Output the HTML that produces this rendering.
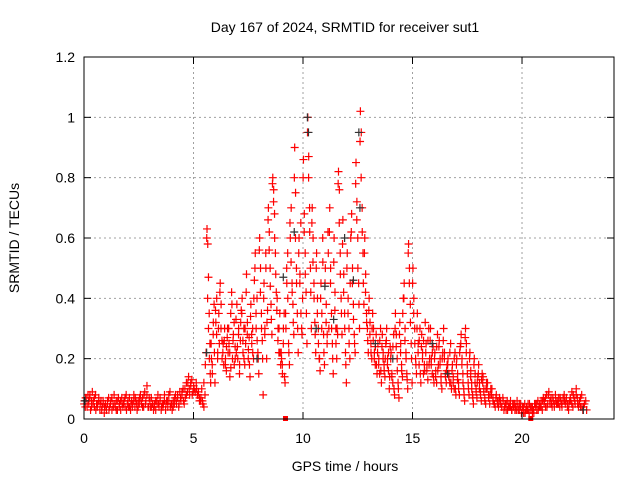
<!DOCTYPE html>
<html><head><meta charset="utf-8"><style>
body{margin:0;background:#fff}
svg text{font-family:"Liberation Sans",sans-serif;font-size:14px;fill:#000}
</style></head><body>
<svg id="chart" width="640" height="480" xmlns="http://www.w3.org/2000/svg">
<rect width="640" height="480" fill="#fff"/>
<text x="345" y="32" text-anchor="middle">Day 167 of 2024, SRMTID for receiver sut1</text>
<text transform="translate(19,238) rotate(-90)" text-anchor="middle">SRMTID / TECUs</text>
<text x="345" y="471" text-anchor="middle">GPS time / hours</text>
<g id="grid"></g><g id="points"></g><g id="axes"></g>
</svg>
<script>
const xTicks=[0,5,10,15,20];
const yTicks=[0,0.2,0.4,0.6,0.8,1,1.2];
const yTickLabels=["0","0.2","0.4","0.6","0.8","1","1.2"];
const binWidth=0.2;
const redBins=[
[.06,.04,.07,.05,.08],[.05,.07,.03,.06,.09],[.06,.04,.08,.05],[.05,.07,.03,.06],[.04,.06,.02,.05],
[.03,.05,.07,.04],[.06,.03,.05,.08],[.04,.06,.03,.07],[.05,.03,.07,.04],[.06,.04,.08,.05],
[.04,.07,.03,.06],[.05,.08,.04,.06],[.03,.06,.05,.08],[.05,.07,.04,.09],[.06,.11,.04,.07],
[.04,.07,.05,.03],[.05,.03,.06,.08],[.04,.06,.03,.05],[.05,.08,.03,.06],[.04,.06,.09,.05],
[.03,.06,.05,.08],[.05,.07,.04,.09],[.06,.08,.10,.05],[.07,.12,.09,.14],[.08,.11,.13,.09],
[.10,.09,.12,.08],[.09,.07,.06,.10],[.05,.04,.08,.22],[.63,.58,.47,.35,.25,.12],[.2,.15,.28,.38,.12],
[.32,.4,.2,.3,.25],[.45,.38,.26,.22,.18],[.3,.2,.16,.27,.22],[.25,.14,.35,.42,.2],[.28,.18,.24,.33,.38],
[.2,.3,.15,.26,.36],[.4,.22,.3,.18,.25],[.48,.32,.2,.27,.14],[.38,.25,.3,.2,.46],[.55,.3,.4,.22,.15],
[.6,.5,.35,.26,.08],[.45,.3,.55,.2,.36],[.7,.62,.5,.38,.28],[.8,.76,.68,.55,.42],[.4,.3,.22,.35,.18],
[.2,.15,.25,.35,.12],[.3,.45,.55,.25,.18],[.6,.7,.45,.38,.28],[.9,.75,.5,.35,.22],[.6,.48,.65,.3,.4],
[.86,.68,.55,.42,.25],[1.0,.87,.7,.5,.3],[.7,.6,.45,.32,.22],[.55,.4,.3,.2,.16],[.45,.35,.6,.28,.18],
[.5,.38,.25,.62,.3],[.7,.5,.35,.25,.15],[.6,.42,.3,.2,.28],[.82,.76,.55,.4,.28],[.66,.48,.35,.22,.12],
[.55,.4,.3,.2,.6],[.68,.5,.38,.28,.22],[.85,.72,.6,.45,.3],[1.02,.95,.7,.55,.38],[.6,.48,.35,.3,.22],
[.4,.32,.25,.2,.35],[.3,.22,.18,.28,.15],[.25,.2,.15,.3,.12],[.28,.22,.18,.14,.25],[.3,.2,.16,.1,.24],
[.22,.15,.12,.28,.08],[.35,.28,.2,.12,.07],[.32,.25,.18,.14,.4],[.45,.3,.22,.15,.1],[.58,.5,.38,.25,.12],
[.5,.4,.3,.2,.15],[.35,.25,.18,.3,.12],[.28,.22,.15,.18,.32],[.25,.18,.13,.3,.2],[.3,.2,.15,.24,.12],
[.22,.16,.12,.28,.18],[.26,.2,.14,.1,.22],[.3,.22,.15,.12,.18],[.2,.15,.12,.25,.1],[.18,.14,.1,.22,.08],
[.2,.15,.12,.08,.24],[.28,.2,.15,.1,.06],[.3,.25,.18,.12,.08],[.22,.16,.12,.08,.05],[.2,.15,.1,.07,.14],
[.18,.12,.09,.06,.15],[.14,.1,.07,.05,.12],[.12,.08,.05,.1],[.1,.07,.05,.04],[.08,.06,.04,.07],
[.06,.04,.07,.03],[.05,.03,.06,.04],[.04,.06,.03,.05],[.05,.03,.04,.06],[.03,.05,.04,.02],
[.04,.02,.05,.03],[.03,.05,.02,.04],[.04,.02,.03,.05],[.05,.03,.06,.04],[.04,.06,.03,.07],
[.06,.04,.08,.05],[.09,.05,.07,.04],[.06,.04,.08,.05],[.05,.07,.04,.06],[.04,.06,.08,.05],
[.07,.05,.03,.06],[.06,.09,.04,.07],[.05,.1,.07,.04],[.06,.04,.08,.03],[.05,.03]
];
const redBins2=[
[.05,.07,.04],[.06,.08,.04],[.05,.07,.03],[.04,.06,.05],[.03,.05,.04],
[.04,.06,.03],[.05,.07,.04],[.05,.03,.06],[.04,.06,.05],[.05,.07,.03],
[.06,.04,.05],[.04,.06,.07],[.05,.04,.07],[.06,.04,.08],[.05,.08,.04],
[.06,.04,.05],[.04,.06,.05],[.05,.07,.04],[.04,.06,.05],[.06,.08,.04],
[.05,.04,.07],[.06,.08,.05],[.07,.09,.06],[.1,.08,.12],[.1,.12,.08],
[.11,.09,.1],[.08,.06,.07],[.06,.12,.18],[.6,.4,.3,.2,.15],[.25,.18,.32,.22],
[.36,.28,.22,.35],[.42,.3,.2,.25],[.26,.18,.24,.3],[.3,.22,.17,.38],[.26,.32,.2,.22],
[.24,.28,.18,.32],[.35,.26,.2,.3],[.42,.28,.23,.18],[.34,.28,.22,.4],[.5,.35,.26,.2],
[.56,.42,.3,.2],[.4,.28,.5,.32],[.66,.56,.44,.33],[.78,.72,.6,.48],[.36,.26,.3,.22],
[.22,.18,.3,.14],[.35,.5,.4,.22],[.65,.52,.42,.32],[.8,.6,.45,.3],[.55,.45,.35,.28],
[.8,.62,.48,.35],[.95,.8,.62,.42],[.65,.52,.4,.28],[.5,.35,.25,.2],[.4,.3,.52,.22],
[.45,.32,.28,.55],[.62,.45,.3,.2],[.52,.36,.25,.3],[.78,.65,.48,.35],[.58,.42,.3,.18],
[.5,.35,.25,.45],[.62,.45,.33,.25],[.78,.66,.5,.38],[.92,.8,.62,.45],[.55,.42,.32,.26],
[.36,.28,.22,.3],[.26,.2,.24,.18],[.22,.18,.26,.16],[.24,.2,.16,.2],[.26,.18,.22,.14],
[.2,.14,.24,.1],[.3,.24,.16,.1],[.28,.22,.16,.35],[.4,.26,.2,.13],[.55,.45,.32,.2],
[.45,.35,.25,.18],[.3,.22,.26,.15],[.24,.2,.26,.16],[.22,.16,.26,.18],[.26,.18,.22,.14],
[.2,.14,.24,.16],[.24,.18,.12,.2],[.26,.2,.14,.16],[.18,.14,.22,.12],[.16,.12,.2,.1],
[.18,.13,.1,.22],[.25,.18,.12,.08],[.27,.22,.15,.1],[.2,.14,.1,.07],[.18,.12,.09,.12],
[.15,.1,.08,.13],[.12,.09,.06,.1],[.1,.07,.08],[.08,.06,.05],[.07,.05,.06],
[.05,.04,.06],[.04,.05,.03],[.05,.04,.03],[.04,.05,.03],[.04,.03,.05],
[.03,.04,.02],[.04,.03,.05],[.03,.04,.02],[.04,.05,.03],[.05,.04,.06],
[.05,.07,.04],[.08,.06,.05],[.07,.05,.06],[.06,.05,.07],[.05,.07,.06],
[.06,.04,.05],[.07,.05,.08],[.06,.08,.05],[.05,.07,.04],[.04,.06]
];
const blackTimes=[0.05,5.6,7.9,9.1,9.6,10.2,10.25,10.6,11.0,11.4,11.9,12.3,12.55,12.6,13.3,14.1,15.9,16.6,22.8];
const blackValues=[0.06,0.22,0.2,0.47,0.62,1.0,0.95,0.3,0.44,0.33,0.6,0.46,0.95,0.7,0.25,0.2,0.25,0.15,0.03];
const markerTimes=[9.2,20.4];
const markerValues=[0,0];

const X0=84,X1=614,Y0=419,Y1=57,XMAX=24.2,YMAX=1.2;
const xs=t=>X0+t/XMAX*(X1-X0);
const ys=v=>Y0-v/YMAX*(Y0-Y1);
const NS="http://www.w3.org/2000/svg";
function mk(tag,attrs,parent){const e=document.createElementNS(NS,tag);for(const k in attrs)e.setAttribute(k,attrs[k]);parent.appendChild(e);return e;}
const grid=document.getElementById('grid'),axes=document.getElementById('axes'),pts=document.getElementById('points');
yTicks.forEach((v,i)=>{
  const y=ys(v);
  if(v>0&&v<YMAX){const g=mk('line',{x1:X0,x2:X1,y1:y,y2:y,stroke:'#a0a0a0','stroke-dasharray':'2,3'},grid);
  
  }
  mk('line',{x1:X0,x2:X0+7,y1:y,y2:y,stroke:'#000'},axes);
  mk('line',{x1:X1,x2:X1-7,y1:y,y2:y,stroke:'#000'},axes);
  const t=mk('text',{x:X0-9,y:y+5,'text-anchor':'end'},axes);t.textContent=yTickLabels[i];
  
  
});
xTicks.forEach(h=>{
  const x=xs(h);
  if(h>0){const g=mk('line',{x1:x,x2:x,y1:Y0,y2:Y1,stroke:'#a0a0a0','stroke-dasharray':'2,3'},grid);
  
  }
  mk('line',{x1:x,x2:x,y1:Y0,y2:Y0-7,stroke:'#000'},axes);
  mk('line',{x1:x,x2:x,y1:Y1,y2:Y1+7,stroke:'#000'},axes);
  const t=mk('text',{x:x,y:Y0+24,'text-anchor':'middle'},axes);t.textContent=String(h);
  
  
});
const frame=mk('rect',{x:X0,y:Y1,width:X1-X0,height:Y0-Y1,fill:'none',stroke:'#000'},axes);


function plus(t,v,color){
  const x=xs(t),y=ys(v);
  return mk('path',{d:`M${x-4},${y}h8M${x},${y-4}v8`,stroke:color,'stroke-width':1.2,fill:'none'},pts);
}
function drawBins(bins,offset){
  bins.forEach((vals,i)=>{
    vals.forEach((v,j)=>{
      const t=i*binWidth+((j+offset)/vals.length)*binWidth;
      const p=plus(t,v,'#ff0000');
      
      
    });
  });
}
drawBins(redBins,0.5);
drawBins(redBins2,0.1);
blackTimes.forEach((t,i)=>{
  const p=plus(t,blackValues[i],'#333');
  
  
});
markerTimes.forEach((t,i)=>{
  const r=mk('rect',{x:xs(t)-2.5,y:ys(markerValues[i])-3,width:5,height:5,fill:'#ff0000'},pts);
  
  
});
</script>
</body></html>
